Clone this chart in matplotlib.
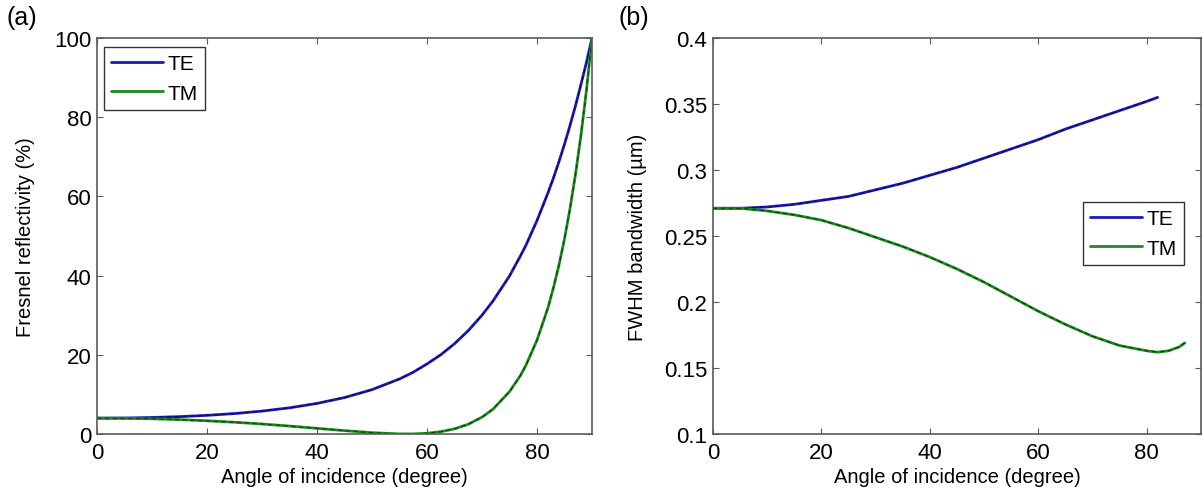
import matplotlib
matplotlib.use("Agg")
import matplotlib.pyplot as plt

plt.rcParams['font.family'] = ['Liberation Sans', 'DejaVu Sans']

# Panel (a): Fresnel reflectivity (%)
angle_a = [0, 5, 10, 15, 20, 25, 30, 35, 40, 45, 50, 55, 57.5, 60, 62.5, 65, 67.5, 70, 72, 75,
           77, 78, 80, 82, 83, 84, 85, 86, 87, 88, 89, 90]
te_a = [4.0, 4.04, 4.17, 4.38, 4.71, 5.16, 5.78, 6.61, 7.72, 9.2, 11.2, 13.9, 15.6, 17.7, 20.0,
        22.8, 26.1, 30.0, 33.6, 39.9, 45.0, 47.7, 53.9, 60.9, 64.7, 68.8, 73.2, 77.9, 82.9,
        88.3, 93.9, 100.0]
tm_a = [4.0, 3.96, 3.84, 3.63, 3.34, 2.97, 2.53, 2.00, 1.43, 0.85, 0.33, 0.02, 0.02, 0.18, 0.58,
        1.30, 2.46, 4.25, 6.27, 10.7, 14.8, 17.4, 23.7, 31.9, 37.0, 42.7, 49.3, 56.9, 65.6,
        75.5, 86.9, 100.0]

# Panel (b): FWHM bandwidth (um)
angle_b_te = [0, 5, 10, 15, 20, 25, 30, 35, 40, 45, 50, 55, 60, 65, 70, 75, 80, 82]
te_b = [0.271, 0.271, 0.272, 0.274, 0.277, 0.280, 0.285, 0.290, 0.296, 0.302, 0.309, 0.316,
        0.323, 0.331, 0.338, 0.345, 0.352, 0.355]
angle_b_tm = [0, 5, 10, 15, 20, 25, 30, 35, 40, 45, 50, 55, 60, 65, 70, 75, 80, 82, 84, 86, 87]
tm_b = [0.271, 0.271, 0.269, 0.266, 0.262, 0.256, 0.249, 0.242, 0.234, 0.225, 0.215, 0.204,
        0.193, 0.183, 0.174, 0.167, 0.163, 0.162, 0.163, 0.166, 0.169]

series_labels = ['TE', 'TM']
blue = '#1a1ab4'
green = '#1e8a1e'
edge = '#5a5a5a'

fig = plt.figure(figsize=(12.03, 5.02), dpi=100)
ax1 = fig.add_axes([97/1203, 1-435/502, 495/1203, 396/502])
ax2 = fig.add_axes([713/1203, 1-435/502, 488/1203, 396/502])

def draw(ax, x, y, c, lab):
    ln, = ax.plot(x, y, color=c, lw=2.0, label=lab, solid_capstyle='round')
    ax.plot(x, y, color='black', lw=0.8, ls=(0, (4, 3)), alpha=0.55)
    return ln

l1 = draw(ax1, angle_a, te_a, blue, series_labels[0])
l2 = draw(ax1, angle_a, tm_a, green, series_labels[1])
ax1.set_xlim(0, 90)
ax1.set_ylim(0, 100)
ax1.set_xticks([0, 20, 40, 60, 80])
ax1.set_yticks([0, 20, 40, 60, 80, 100])
ax1.set_xlabel('Angle of incidence (degree)', fontsize=14.5, labelpad=3)
ax1.set_ylabel('Fresnel reflectivity (%)', fontsize=14.5, labelpad=14)

m1 = draw(ax2, angle_b_te, te_b, blue, series_labels[0])
m2 = draw(ax2, angle_b_tm, tm_b, green, series_labels[1])
ax2.set_xlim(0, 90)
ax2.set_ylim(0.1, 0.4)
ax2.set_xticks([0, 20, 40, 60, 80])
ax2.set_yticks([0.1, 0.15, 0.2, 0.25, 0.3, 0.35, 0.4])
ax2.set_yticklabels(['0.1', '0.15', '0.2', '0.25', '0.3', '0.35', '0.4'])
ax2.set_xlabel('Angle of incidence (degree)', fontsize=14.5, labelpad=3)
ax2.set_ylabel('FWHM bandwidth (\u00b5m)', fontsize=14.5, labelpad=12)

for ax in (ax1, ax2):
    ax.tick_params(direction='in', top=True, right=True, labelsize=16, length=4,
                   color=edge)
    ax.tick_params(axis='x', pad=6)
    ax.tick_params(axis='y', pad=4)
    for s in ax.spines.values():
        s.set_color(edge)
        s.set_linewidth(1.2)

legkw = dict(bbox_transform=fig.transFigure, fontsize=15, fancybox=False,
             edgecolor='#333333', framealpha=1, borderpad=0.35, handlelength=2.5,
             handletextpad=0.2, labelspacing=0.5, borderaxespad=0, loc='upper left')
leg1 = ax1.legend(handles=[l1, l2], bbox_to_anchor=(104/1203, 1-48/502), **legkw)
leg1.get_frame().set_linewidth(1.0)
leg2 = ax2.legend(handles=[m1, m2], bbox_to_anchor=(1083/1203, 1-203/502), **legkw)
leg2.get_frame().set_linewidth(1.0)

fig.text(6/1203, 1-18/502, '(a)', fontsize=18, va='center', ha='left')
fig.text(618/1203, 1-18/502, '(b)', fontsize=18, va='center', ha='left')

fig.savefig('out.png', dpi=100)
